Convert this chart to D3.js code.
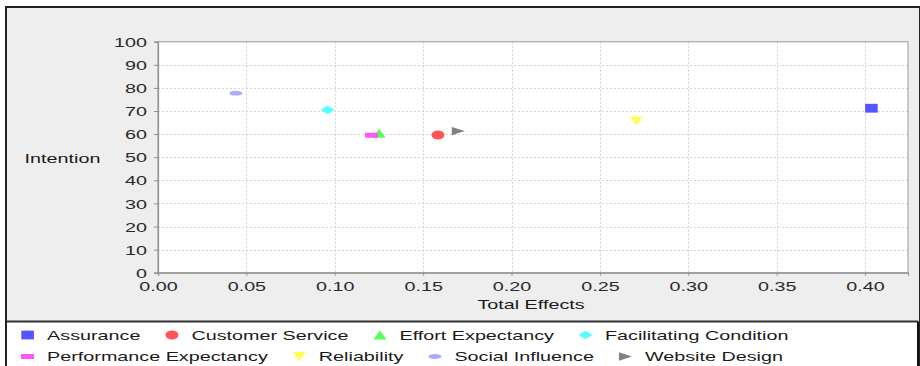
<!DOCTYPE html>
<html><head><meta charset="utf-8">
<script src="https://cdn.jsdelivr.net/npm/d3@7"></script>
<style>
html,body{margin:0;padding:0;background:#fff;}
svg{display:block;font-family:"Liberation Sans",Arial,sans-serif;}
</style></head>
<body>
<svg id="chart" width="920" height="366"></svg>
<script>
// ---- data ----
const categories = ["Assurance","Customer Service","Effort Expectancy","Facilitating Condition",
  "Performance Expectancy","Reliability","Social Influence","Website Design"];
const totalEffects = [0.4036, 0.1584, 0.1251, 0.0960, 0.1208, 0.2706, 0.0440, 0.1699];
const intention    = [71.2, 59.6, 60.4, 70.5, 59.5, 65.7, 77.7, 61.3];
const colors = ["#5555ff","#ff5555","#55ff55","#55ffff","#ff55ff","#ffff55","#aaaaff","#808080"];
const shapes = ["square","circle","triangleUp","diamond","hrect","triangleDown","hellipse","triangleRight"];
const xTicks = [0,0.05,0.10,0.15,0.20,0.25,0.30,0.35,0.40];
const yTicks = [0,10,20,30,40,50,60,70,80,90,100];
const xLabel = "Total Effects";
const yLabel = "Intention";

// ---- layout ----
const SX = 1.52;       // horizontal text stretch seen in the reference
const FS = 13;
const plot = {left:158, right:908, top:41.7, bottom:272.7};
const svg = d3.select("#chart");

// outer frame
svg.append("rect").attr("x",6).attr("y",7).attr("width",914).attr("height",359)
  .attr("fill","#eeeeee").attr("stroke","#222").attr("stroke-width",2);

const x = d3.scaleLinear().domain([0, 0.4243]).range([plot.left, plot.right]);
const y = d3.scaleLinear().domain([0, 100]).range([plot.bottom, plot.top]);

// plot background
svg.append("rect").attr("x",plot.left).attr("y",plot.top)
  .attr("width",plot.right-plot.left).attr("height",plot.bottom-plot.top)
  .attr("fill","#fff");

// gridlines
const grid = svg.append("g").attr("stroke","#d2d2d2").attr("stroke-dasharray","2,2").attr("stroke-width",1);
grid.selectAll("line.v").data(xTicks.filter(d=>d>0)).join("line")
  .attr("x1",d=>Math.round(x(d))+0.5).attr("x2",d=>Math.round(x(d))+0.5)
  .attr("y1",plot.top).attr("y2",plot.bottom);
grid.selectAll("line.h").data(yTicks.filter(d=>d>0 && d<100)).join("line")
  .attr("y1",d=>Math.round(y(d))+0.5).attr("y2",d=>Math.round(y(d))+0.5)
  .attr("x1",plot.left).attr("x2",plot.right);

// plot border
svg.append("rect").attr("x",plot.left).attr("y",plot.top)
  .attr("width",plot.right-plot.left).attr("height",plot.bottom-plot.top)
  .attr("fill","none").attr("stroke","#a8a8a8").attr("stroke-width",1.2);

// axes
const gx = svg.append("g").attr("transform",`translate(0,${plot.bottom})`)
  .call(d3.axisBottom(x).tickValues(xTicks).tickFormat(d3.format(".2f")).tickSizeOuter(0).tickSize(3));
const gy = svg.append("g").attr("transform",`translate(${plot.left},0)`)
  .call(d3.axisLeft(y).tickValues(yTicks).tickFormat(d3.format("d")).tickSizeOuter(0).tickSize(4));
[gx,gy].forEach(g=>{
  g.select(".domain").attr("stroke","#909090").attr("stroke-width",1.2);
  g.selectAll(".tick line").attr("stroke","#909090");
  g.selectAll(".tick text").attr("fill","#2a2a2a").style("font-size",FS+"px")
   .style("font-family",'"Liberation Sans",Arial,sans-serif');
});
gx.selectAll(".tick text").attr("y",0).attr("dy",0)
  .attr("transform",`translate(0,17.8) scale(${SX},1)`);
gy.selectAll(".tick text").attr("x",0).attr("dy",0)
  .attr("transform",`translate(-11,4.6) scale(${SX},1)`);

function stretchedText(parent, tx, ty, txt, anchor, size, fill){
  return parent.append("text").attr("transform",`translate(${tx},${ty}) scale(${SX},1)`)
    .attr("text-anchor",anchor).style("font-size",size+"px").attr("fill",fill||"#222").text(txt);
}
// axis labels
stretchedText(svg,(plot.left+plot.right)/2 - 2, 308.5, xLabel, "middle", FS, "#1a1a1a");
stretchedText(svg, 62.5, 162.5, yLabel, "middle", FS, "#1a1a1a");

// symbol drawing
function drawSymbol(g, shape, color){
  const w=13, h=9;
  let el;
  switch(shape){
    case "square": el=g.append("rect").attr("x",-6.3).attr("y",-4.4).attr("width",12.6).attr("height",8.8); break;
    case "circle": el=g.append("ellipse").attr("rx",6.5).attr("ry",4.5); break;
    case "triangleUp": el=g.append("path").attr("d",`M0,${-h/2}L${w/2},${h/2}L${-w/2},${h/2}Z`); break;
    case "diamond": el=g.append("path").attr("d",`M0,${-4.3}L7,0L0,4.3L-7,0Z`); break;
    case "hrect": el=g.append("rect").attr("x",-6.5).attr("y",-2.5).attr("width",13).attr("height",5); break;
    case "triangleDown": el=g.append("path").attr("d",`M${-w/2},${-h/2}L${w/2},${-h/2}L0,${h/2}Z`); break;
    case "hellipse": el=g.append("ellipse").attr("rx",6.4).attr("ry",2.4); break;
    case "triangleRight": el=g.append("path").attr("d",`M${-w/2},${-4.2}L${w/2},0L${-w/2},4.2Z`); break;
  }
  el.attr("fill",color);
}

// points
const pts = svg.append("g");
categories.forEach((c,i)=>{
  const g = pts.append("g").attr("transform",`translate(${x(totalEffects[i])},${y(intention[i])})`);
  drawSymbol(g, shapes[i], colors[i]);
});

// legend
const legTop = 321.5;
svg.append("rect").attr("x",7).attr("y",legTop).attr("width",911).attr("height",60)
  .attr("fill","#fff");
svg.append("line").attr("x1",6).attr("x2",918).attr("y1",legTop).attr("y2",legTop)
  .attr("stroke","#333").attr("stroke-width",2);
svg.append("line").attr("x1",918).attr("x2",918).attr("y1",legTop).attr("y2",366)
  .attr("stroke","#111").attr("stroke-width",2);
svg.append("line").attr("x1",6).attr("x2",6).attr("y1",7).attr("y2",366)
  .attr("stroke","#222").attr("stroke-width",2);

const leg = svg.append("g");
const rowBase = [339.5, 361];
const startX = 27.6, symToText = 19.5, itemGap = 31.5, maxRight = 905;
let cx = startX, row = 0;
categories.forEach((c,i)=>{
  // measure
  const t = leg.append("text").style("font-size",FS+"px").text(c);
  const wTxt = t.node().getComputedTextLength()*SX;
  t.remove();
  if (cx + symToText + wTxt > maxRight) { row++; cx = startX; }
  const base = rowBase[row];
  const g = leg.append("g").attr("transform",`translate(${cx},${base-4.5})`);
  drawSymbol(g, shapes[i], colors[i]);
  stretchedText(leg, cx+symToText, base, c, "start", FS, "#1a1a1a");
  cx = cx + symToText + wTxt + itemGap;
});
</script>
</body></html>
